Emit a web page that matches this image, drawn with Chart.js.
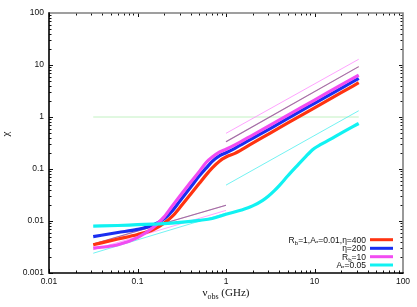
<!DOCTYPE html>
<html><head><meta charset="utf-8">
<script src="https://cdn.jsdelivr.net/npm/chart.js@4/dist/chart.umd.min.js"></script>
<style>html,body{margin:0;padding:0;background:#fff;}canvas{display:block;}</style>
</head><body>
<canvas id="c" width="417" height="307"></canvas>
<script>
// ---- data ----
const xTicks = [0.01, 0.1, 1, 10, 100];
const yTicks = [0.001, 0.01, 0.1, 1, 10, 100];

const freqThick = [0.0316, 0.06, 0.1, 0.15, 0.2, 0.25, 0.3, 0.4, 0.5, 0.6, 0.7, 0.85, 1, 1.26, 2, 3.16, 5, 10, 20, 31.6];
const chiRed     = [0.0035, 0.0045, 0.0055, 0.0068, 0.0091, 0.0125, 0.018, 0.033, 0.053, 0.078, 0.105, 0.143, 0.17, 0.2, 0.315, 0.49, 0.77, 1.5, 2.93, 4.57];
const chiBlue    = [0.0050, 0.0060, 0.0069, 0.0084, 0.011, 0.016, 0.024, 0.045, 0.074, 0.105, 0.14, 0.18, 0.205, 0.25, 0.39, 0.6, 0.94, 1.83, 3.55, 5.55];
const chiMagenta = [0.0030, 0.0035, 0.0048, 0.0075, 0.012, 0.020, 0.030, 0.056, 0.09, 0.135, 0.17, 0.213, 0.24, 0.29, 0.45, 0.70, 1.09, 2.12, 4.14, 6.4];

const freqCyan = [0.0316, 0.06, 0.1, 0.15, 0.2, 0.3, 0.5, 0.7, 1, 1.5, 2, 2.6, 3, 3.5, 4, 5, 6.5, 8, 9, 10, 11.5, 15, 20, 31.6];
const chiCyan  = [0.0080, 0.0082, 0.0085, 0.0087, 0.0089, 0.0094, 0.0103, 0.0112, 0.0135, 0.0163, 0.0195, 0.025, 0.030, 0.038, 0.048, 0.074, 0.12, 0.175, 0.215, 0.25, 0.29, 0.37, 0.49, 0.75];

const freqLow = [0.0316, 1];
const chiLowPurple = [0.0036, 0.02];
const chiLowPink   = [0.0028, 0.016];
const chiLowCyan   = [0.0024, 0.0142];

const freqHigh = [1, 31.6];
const chiHighPurple = [0.335, 9.3];
const chiHighPink   = [0.485, 12.9];
const chiHighCyan   = [0.049, 1.32];

const freqUnity = [0.0316, 31.6];
const chiUnity  = [1, 1];

const legendLabels = [
  [["R",0],["b",1],["=1,A",0],["*",1],["=0.01,\u03b7=400",0]],
  [["\u03b7=200",0]],
  [["R",0],["b",1],["=10",0]],
  [["A",0],["*",1],["=0.05",0]]
];
const legendNames = ["Rb=1,A*=0.01,\u03b7=400", "\u03b7=200", "Rb=10", "A*=0.05"];

// ---- styles ----
const RED = '#ff3311', BLUE = '#1a2ef0', MAG = '#f24cf2', CYAN = '#11f2f2';
const pts = (xs, ys) => xs.map((x, i) => ({x: x, y: ys[i]}));

function thick(label, xs, ys, color, order) {
  return {label, data: pts(xs, ys), borderColor: color, backgroundColor: color, borderWidth: 3.2,
    pointRadius: 0, cubicInterpolationMode: 'monotone', fill: false, order};
}
function thin(label, xs, ys, color, w, order) {
  return {label, data: pts(xs, ys), borderColor: color, backgroundColor: color, borderWidth: w || 1,
    pointRadius: 0, tension: 0, fill: false, order: order || 20};
}

const datasets = [
  thin('unity', freqUnity, chiUnity, 'rgba(170,235,170,0.7)', 1, 30),
  thin('low red', freqLow, chiLowPurple, 'rgba(255,90,50,0.75)', 1.1, 22),
  thin('low blue', freqLow, chiLowPurple, 'rgba(70,90,240,0.55)', 1.1, 21),
  thin('low pink', freqLow, chiLowPink, 'rgba(255,140,255,0.8)', 1, 21),
  thin('low cyan', freqLow, chiLowCyan, 'rgba(90,240,240,0.85)', 1, 21),
  thin('high red', freqHigh, chiHighPurple, 'rgba(255,90,50,0.75)', 1.1, 22),
  thin('high blue', freqHigh, chiHighPurple, 'rgba(70,90,240,0.55)', 1.1, 21),
  thin('high pink', freqHigh, chiHighPink, 'rgba(255,140,255,0.8)', 1, 21),
  thin('high cyan', freqHigh, chiHighCyan, 'rgba(90,240,240,0.85)', 1, 21),
  thick(legendNames[0], freqThick, chiRed, RED, 4),
  thick(legendNames[1], freqThick, chiBlue, BLUE, 3),
  thick(legendNames[2], freqThick, chiMagenta, MAG, 2),
  thick(legendNames[3], freqCyan, chiCyan, CYAN, 1)
];
const legendColors = [RED, BLUE, MAG, CYAN];

const TICKFONT = {family: "'Liberation Sans', Arial, sans-serif", size: 8.5};

function fmt(v) {
  const s = {0.001: '0.001', 0.01: '0.01', 0.1: '0.1', 1: '1', 10: '10', 100: '100'};
  return s[v] !== undefined ? s[v] : '';
}

function drawRich(ctx, parts, xRight, yMid, size) {
  const big = size + "px 'Liberation Sans', Arial, sans-serif";
  const small = (size * 0.72) + "px 'Liberation Sans', Arial, sans-serif";
  let total = 0;
  parts.forEach(p => { ctx.font = p[1] ? small : big; total += ctx.measureText(p[0]).width; });
  let x = xRight - total;
  ctx.textBaseline = 'alphabetic';
  ctx.textAlign = 'left';
  const base = yMid + size * 0.36;
  parts.forEach(p => {
    ctx.font = p[1] ? small : big;
    ctx.fillText(p[0], x, p[1] ? base + 2 : base);
    x += ctx.measureText(p[0]).width;
  });
}

const framePlugin = {
  id: 'frame',
  afterDraw(chart) {
    const ctx = chart.ctx, a = chart.chartArea;
    const xs = chart.scales.x, ys = chart.scales.y;
    ctx.save();
    // ticks (inward)
    ctx.strokeStyle = '#111';
    ctx.lineWidth = 1;
    const decX = [0.01, 0.1, 1, 10];
    decX.forEach(d => {
      for (let m = 1; m <= 9; m++) {
        const px = Math.round(xs.getPixelForValue(d * m)) + 0.5;
        const L = m === 1 ? 4 : 2.5;
        ctx.beginPath();
        ctx.moveTo(px, a.bottom); ctx.lineTo(px, a.bottom - L);
        ctx.moveTo(px, a.top); ctx.lineTo(px, a.top + L);
        ctx.stroke();
      }
    });
    const decY = [0.001, 0.01, 0.1, 1, 10];
    decY.forEach(d => {
      for (let m = 1; m <= 9; m++) {
        const py = Math.round(ys.getPixelForValue(d * m)) + 0.5;
        const L = m === 1 ? 4 : 2.5;
        ctx.beginPath();
        ctx.moveTo(a.left, py); ctx.lineTo(a.left + L, py);
        ctx.moveTo(a.right, py); ctx.lineTo(a.right - L, py);
        ctx.stroke();
      }
    });
    // frame
    ctx.lineWidth = 1.6;
    ctx.strokeStyle = '#808080';
    ctx.beginPath();
    ctx.moveTo(a.left, a.top); ctx.lineTo(a.right, a.top); ctx.lineTo(a.right, a.bottom);
    ctx.stroke();
    ctx.strokeStyle = '#000';
    ctx.beginPath();
    ctx.moveTo(a.left, a.top - 0.8); ctx.lineTo(a.left, a.bottom); ctx.lineTo(a.right + 0.8, a.bottom);
    ctx.stroke();

    // legend
    ctx.fillStyle = '#111';
    const rowY = [239.7, 248.3, 256.7, 265];
    legendLabels.forEach((parts, i) => {
      drawRich(ctx, parts, 366, rowY[i], 8.5);
      ctx.strokeStyle = legendColors[i];
      ctx.lineWidth = 3;
      ctx.beginPath();
      ctx.moveTo(370, rowY[i]); ctx.lineTo(393, rowY[i]);
      ctx.stroke();
    });

    // x title: nu_obs (GHz)
    const serif = "'Liberation Serif', 'Times New Roman', serif";
    const parts = [["\u03bd", 11, 0], ["obs", 8, 3], [" (GHz)", 11, 0]];
    let w = 0;
    parts.forEach(p => { ctx.font = p[1] + 'px ' + serif; w += ctx.measureText(p[0]).width; });
    let x = (a.left + a.right) / 2 - w / 2;
    ctx.textAlign = 'left'; ctx.textBaseline = 'alphabetic';
    parts.forEach(p => {
      ctx.font = p[1] + 'px ' + serif;
      ctx.fillText(p[0], x, 295.5 + p[2]);
      x += ctx.measureText(p[0]).width;
    });

    // y title: chi (rotated)
    ctx.save();
    ctx.translate(6, 134);
    ctx.rotate(-Math.PI / 2);
    ctx.font = '11px ' + serif;
    ctx.textAlign = 'center'; ctx.textBaseline = 'middle';
    ctx.fillText('\u03c7', 0, 0);
    ctx.restore();
    ctx.restore();
  }
};

new Chart(document.getElementById('c'), {
  type: 'line',
  data: {datasets},
  options: {
    responsive: false,
    devicePixelRatio: 1,
    animation: false,
    layout: {padding: {top: 13, right: 14, left: 0, bottom: 0}},
    plugins: {legend: {display: false}, tooltip: {enabled: false}},
    scales: {
      x: {
        type: 'logarithmic', min: 0.01, max: 100, position: 'bottom',
        grid: {display: false, drawTicks: false},
        border: {display: false},
        afterBuildTicks: s => { s.ticks = xTicks.map(v => ({value: v})); },
        afterFit: s => { s.height = 34; },
        ticks: {font: TICKFONT, color: '#111', padding: 4, maxRotation: 0, autoSkip: false, callback: v => fmt(v)}
      },
      y: {
        type: 'logarithmic', min: 0.001, max: 100, position: 'left',
        grid: {display: false, drawTicks: false},
        border: {display: false},
        afterBuildTicks: s => { s.ticks = yTicks.map(v => ({value: v})); },
        afterFit: s => { s.width = 49; },
        ticks: {font: TICKFONT, color: '#111', padding: 5, autoSkip: false, callback: v => fmt(v)}
      }
    }
  },
  plugins: [framePlugin]
});
</script>
</body></html>
